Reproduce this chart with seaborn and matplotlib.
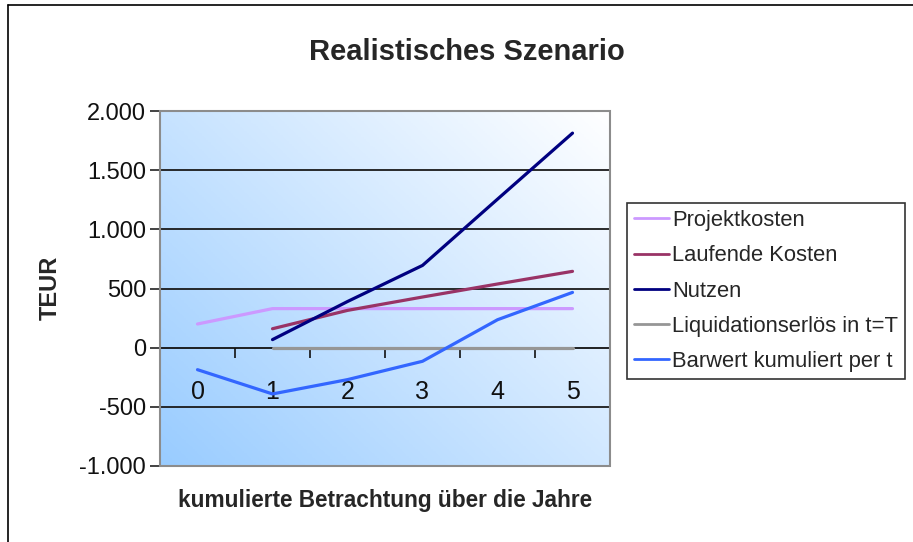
import numpy as np
import pandas as pd
import matplotlib
matplotlib.use("Agg")
import matplotlib.pyplot as plt
import seaborn as sns
from matplotlib.patches import Rectangle
from matplotlib.lines import Line2D
from matplotlib.colors import LinearSegmentedColormap

# ---- data ----
years = [0, 1, 2, 3, 4, 5]
projektkosten = [200, 330, 330, 330, 330, 330]
laufende_kosten = [np.nan, 160, 315, 428, 538, 645]
nutzen = [np.nan, 68, 390, 695, 1255, 1813]
liquidationserloes = [np.nan, 0, 0, 0, 0, 0]
barwert = [-186, -391, -270, -115, 236, 467]

series_names = ["Projektkosten", "Laufende Kosten", "Nutzen",
                "Liquidationserlös in t=T", "Barwert kumuliert per t"]
series_colors = ["#CC99FF", "#993366", "#000080", "#969696", "#3366FF"]

y_ticks = [-1000, -500, 0, 500, 1000, 1500, 2000]
y_tick_labels = ["-1.000", "-500", "0", "500", "1.000", "1.500", "2.000"]
x_tick_labels = ["0", "1", "2", "3", "4", "5"]

title = "Realistisches Szenario"
x_label = "kumulierte Betrachtung über die Jahre"
y_label = "TEUR"

# ---- build long table ----
frames = []
for name, vals in zip(series_names,
                      [projektkosten, laufende_kosten, nutzen, liquidationserloes, barwert]):
    frames.append(pd.DataFrame({"Jahr": years, "Wert": vals, "Reihe": name}))
df = pd.concat(frames, ignore_index=True).dropna()

sns.set_style("white")
plt.rcParams["font.family"] = ["Liberation Sans", "DejaVu Sans"]

W, H = 913, 542
fig = plt.figure(figsize=(W / 100, H / 100), dpi=100)
fig.patch.set_facecolor("white")

left, right, top, bottom = 160, 610, 111, 466
ax = fig.add_axes([left / W, 1 - bottom / H, (right - left) / W, (bottom - top) / H])

# gradient background (light blue bottom-left to white top-right)
n = 200
xx, yy = np.meshgrid(np.linspace(0, 1, n), np.linspace(0, 1, n))
grad = (xx * 0.55 + yy * 0.45)
cmap = LinearSegmentedColormap.from_list("bg", ["#99CCFF", "#FFFFFF"])
ax.imshow(grad, cmap=cmap, origin="lower", extent=[0, 1, 0, 1],
          transform=ax.transAxes, aspect="auto", zorder=0)

# gridlines
for yv in y_ticks:
    if yv not in (0, 2000, -1000):
        ax.axhline(yv, color="#1a1a1a", lw=1.3, zorder=1)

palette = dict(zip(series_names, series_colors))
sns.lineplot(data=df, x="Jahr", y="Wert", hue="Reihe", hue_order=series_names,
             palette=palette, linewidth=2.3, ax=ax, zorder=3, legend=True,
             estimator=None, sort=False)
handles, labels = ax.get_legend_handles_labels()
ax.legend_.remove()

ax.set_xlim(-0.5, 5.5)
ax.set_ylim(-1000, 2000)

# y axis
ax.set_yticks(y_ticks)
ax.set_yticklabels(y_tick_labels, fontsize=17, color="#111111")
ax.tick_params(axis="y", direction="out", length=7, width=1.2, color="#222222", pad=3, left=True)

# x axis at zero, tick marks between categories, labels at centers
ax.spines["bottom"].set_position(("data", 0))
ax.spines["bottom"].set_color("#111111")
ax.spines["bottom"].set_linewidth(1.3)
ax.spines["bottom"].set_zorder(2)
ax.set_xticks([i + 0.5 for i in range(-1, 6)])
ax.set_xticklabels([])
ax.tick_params(axis="x", which="major", direction="out", length=7, width=1.2,
               color="#111111", bottom=True)
ax.set_xticks(years, minor=True)
ax.set_xticklabels(x_tick_labels, minor=True, fontsize=18, color="#111111")
ax.tick_params(axis="x", which="minor", length=0, pad=23)

ax.spines["left"].set_color("#222222")
ax.spines["left"].set_linewidth(1.2)
ax.spines["top"].set_visible(False)
ax.spines["right"].set_visible(False)
ax.add_patch(Rectangle((0, 0), 1, 1, transform=ax.transAxes, fill=False,
                       edgecolor="#8c8c8c", lw=1.5, zorder=5, clip_on=False))
ax.set_xlabel("")
ax.set_ylabel("")

# titles and labels
fig.text(467 / W, 1 - 52 / H, title, ha="center", va="center",
         fontsize=21, fontweight="bold")
fig.text(385 / W, 1 - 500 / H, x_label, ha="center", va="center",
         fontsize=16.3, fontweight="bold")
fig.text(50 / W, 1 - 288 / H, y_label, ha="center", va="center",
         fontsize=17, fontweight="bold", rotation=90)

# legend
leg = fig.legend(handles, labels, loc="upper left",
                 bbox_to_anchor=(627 / W, 1 - 203 / H), frameon=True, fancybox=False,
                 edgecolor="black", fontsize=15.8, handlelength=1.6, handletextpad=0.15,
                 labelspacing=0.65, borderpad=0.32, borderaxespad=0)
leg.get_frame().set_linewidth(1.2)
for lh in leg.get_lines():
    lh.set_linewidth(2.0)

# outer chart border
fig.add_artist(Line2D([8 / W, 8 / W], [0, 1 - 5 / H], transform=fig.transFigure,
                      color="black", lw=1.2))
fig.add_artist(Line2D([8 / W, 1], [1 - 5 / H, 1 - 5 / H], transform=fig.transFigure,
                      color="black", lw=1.2))

fig.savefig("out.png", dpi=100)
